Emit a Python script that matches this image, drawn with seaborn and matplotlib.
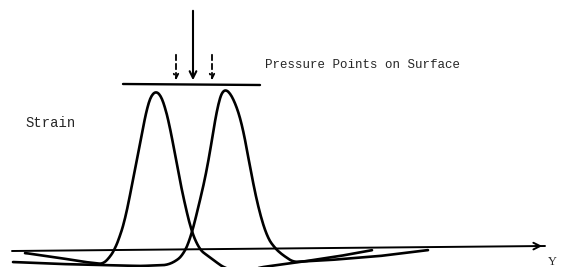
import numpy as np
import pandas as pd
import matplotlib.pyplot as plt
import seaborn as sns

# position along surface (Y) and strain
left_y = [25, 60, 85, 103, 110, 115, 120, 125, 133, 142, 148, 152, 156, 160, 164, 170, 178,
          185, 192, 200, 212, 223, 235, 245, 263, 300, 340, 372]
left_strain = [-2, -7, -11, -13, -6, 2, 15, 31, 71, 118, 148, 157, 160, 157, 148, 124, 80,
               46, 18, 1, -8, -16, -20, -20, -16, -11, -5, 1]

right_y = [13, 60, 103, 140, 167, 176, 183, 190, 197, 207, 213, 218, 221, 224, 228, 233,
           242, 250, 258, 267, 274, 280, 293, 330, 380, 428]
right_strain = [-11, -13, -14, -15, -14, -10, -4, 11, 38, 81, 118, 148, 158, 163, 160, 154,
                128, 84, 44, 14, 4, -2, -11, -9, -5, 1]

axis_y = [12, 545]
axis_strain = [0, 5]

surface_y = [123, 260]
surface_strain = [167, 166]

load_y = 193
load_top = 243
gauge_y = [176, 212]
gauge_top = 199

df = pd.concat([
    pd.DataFrame({"Y": left_y, "Strain": left_strain, "curve": "left"}),
    pd.DataFrame({"Y": right_y, "Strain": right_strain, "curve": "right"}),
])

sns.set_style("white")
plt.rcParams['font.family'] = ['Liberation Mono', 'DejaVu Sans']

fig = plt.figure(figsize=(5.65, 2.67), dpi=100)
ax = fig.add_axes([0, 0, 1, 1])

# smooth the hand-drawn curves a little
for name, g in df.groupby("curve"):
    xs = np.linspace(g["Y"].min(), g["Y"].max(), 500)
    ys = np.interp(xs, g["Y"], g["Strain"])
    k = np.ones(11) / 11
    ys = np.convolve(np.pad(ys, 5, mode="edge"), k, mode="valid")
    sns.lineplot(x=xs, y=ys, ax=ax, color="black", lw=1.9, sort=False)

sns.lineplot(x=axis_y, y=axis_strain, ax=ax, color="black", lw=1.4)
sns.lineplot(x=surface_y, y=surface_strain, ax=ax, color="black", lw=1.7)

ax.annotate("", xy=(axis_y[1], axis_strain[1]), xytext=(axis_y[1] - 12, axis_strain[1] - 0.1),
            arrowprops=dict(arrowstyle="->", color="black", lw=1.4, mutation_scale=12))
ax.annotate("", xy=(load_y, surface_strain[0] + 1), xytext=(load_y, load_top),
            arrowprops=dict(arrowstyle="->", color="black", lw=1.5, mutation_scale=12))
for gy in gauge_y:
    ax.annotate("", xy=(gy, surface_strain[0] + 1), xytext=(gy, gauge_top),
                arrowprops=dict(arrowstyle="->", color="black", lw=1.3, ls=(0, (3, 2)),
                                mutation_scale=8))

ax.text(265, 186, "Pressure Points on Surface", fontsize=9, va="center", ha="left")
ax.text(25, 128, "Strain", fontsize=10, va="center", ha="left")
ax.text(552, -11, "Y", fontsize=9, va="center", ha="center", family="Liberation Serif")

ax.set_xlim(0, 565)
ax.set_ylim(-16, 251)
ax.axis("off")

plt.savefig("out.png", dpi=100)
